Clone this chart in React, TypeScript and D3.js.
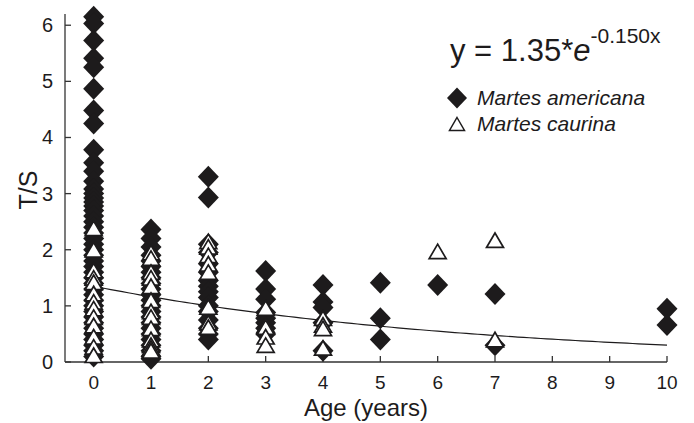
import React from 'react';
import * as d3 from 'd3';

// age (years) per column
const ages = [0, 1, 2, 3, 4, 5, 6, 7, 10];

// Martes americana (filled diamonds), T/S values per age
const americana: number[][] = [
  [6.15, 6.03, 5.73, 5.41, 5.25, 4.87, 4.48, 4.25, 3.78, 3.55, 3.4, 3.22, 3.08, 3.0, 2.92, 2.85, 2.78, 2.7, 2.6, 2.5,
    2.4, 2.3, 2.2, 2.1, 2.0, 1.9, 1.8, 1.7, 1.6, 1.5, 1.4, 1.3, 1.2, 1.1, 1.0, 0.9, 0.8, 0.7, 0.6, 0.5, 0.4, 0.3, 0.2, 0.1],
  [2.36, 2.2, 2.05, 1.9, 1.8, 1.7, 1.6, 1.5, 1.4, 1.3, 1.2, 1.1, 1.0, 0.9, 0.8, 0.7, 0.6, 0.5, 0.4, 0.3, 0.2, 0.1, 0.06],
  [3.3, 2.93, 2.1, 1.95, 1.75, 1.6, 1.45, 1.35, 1.25, 1.15, 1.0, 0.9, 0.75, 0.6, 0.5, 0.4],
  [1.62, 1.3, 1.12, 0.88, 0.78, 0.7, 0.6, 0.5],
  [1.37, 1.07, 0.97, 0.7, 0.2],
  [1.41, 0.78, 0.4],
  [1.37],
  [1.21, 0.3],
  [0.95, 0.66]
];

// Martes caurina (open triangles)
const caurina: number[][] = [
  [2.38, 2.0, 1.63, 1.5, 1.42, 1.22, 1.07, 0.95, 0.8, 0.65, 0.45, 0.27, 0.12],
  [1.95, 1.85, 1.6, 1.5, 1.35, 1.1, 0.9, 0.8, 0.6, 0.4, 0.3, 0.25, 0.2],
  [2.15, 2.05, 1.9, 1.75, 1.6, 0.98, 0.7, 0.62],
  [0.96, 0.66, 0.62, 0.45, 0.3],
  [0.78, 0.66, 0.6, 0.25],
  [],
  [1.97],
  [2.17, 0.4],
  []
];

const xTicks = [0, 1, 2, 3, 4, 5, 6, 7, 8, 9, 10];
const yTicks = [0, 1, 2, 3, 4, 5, 6];
const fitA = 1.35;
const fitB = -0.15;

const W = 694, H = 423;
const ink = '#1d1b1c';
const font = '"Liberation Sans", Arial, sans-serif';

function diamond(cx: number, cy: number, w: number, h: number) {
  return `M${cx},${cy - h}L${cx + w},${cy}L${cx},${cy + h}L${cx - w},${cy}Z`;
}
function triangle(cx: number, cy: number, w: number, h: number) {
  return `M${cx},${cy - h / 2}L${cx + w / 2},${cy + h / 2}L${cx - w / 2},${cy + h / 2}Z`;
}

export default function App() {
  const x = d3.scaleLinear().domain([-0.5, 10]).range([65, 667]);
  const y = d3.scaleLinear().domain([0, 6.2]).range([362, 14]);

  const curveData = d3.range(0, 10.01, 0.1).map((a) => [a, fitA * Math.exp(fitB * a)] as [number, number]);
  const line = d3.line<[number, number]>().x((d) => x(d[0])).y((d) => y(d[1]));

  return (
    <svg width={W} height={H} style={{ position: 'absolute', left: 0, top: 0 }} fontFamily={font}>
      <rect width={W} height={H} fill="#fff" />
      {/* axes */}
      <line x1={x.range()[0]} x2={x.range()[1]} y1={y(0)} y2={y(0)} stroke="#333" strokeWidth={1.3} />
      <line x1={x.range()[0]} x2={x.range()[0]} y1={y.range()[0]} y2={y.range()[1]} stroke="#333" strokeWidth={1.3} />
      {yTicks.map((t) => (
        <g key={'y' + t}>
          <line x1={x.range()[0]} x2={x.range()[0] + 6} y1={y(t)} y2={y(t)} stroke="#333" strokeWidth={1.3} />
          <text x={53} y={y(t) + 7} textAnchor="end" fontSize={20} fill={ink}>{t}</text>
        </g>
      ))}
      {xTicks.map((t) => (
        <g key={'x' + t}>
          <line x1={x(t)} x2={x(t)} y1={y(0)} y2={y(0) - 6} stroke="#333" strokeWidth={1.3} />
          <text x={x(t)} y={389} textAnchor="middle" fontSize={19} fill={ink}>{t}</text>
        </g>
      ))}
      <text x={366} y={416} textAnchor="middle" fontSize={24} fill={ink}>Age (years)</text>
      <text transform="translate(37,190) rotate(-90)" textAnchor="middle" fontSize={25} fill={ink}>T/S</text>

      {/* fitted curve */}
      <path d={line(curveData) || ''} fill="none" stroke={ink} strokeWidth={1.2} />

      {/* points */}
      {americana.map((vals, i) =>
        vals.map((v, j) => <path key={`a${i}-${j}`} d={diamond(x(ages[i]), y(v), 10.5, 11)} fill={ink} />)
      )}
      {caurina.map((vals, i) =>
        vals.map((v, j) => (
          <path key={`c${i}-${j}`} d={triangle(x(ages[i]), y(v), 17, 14.5)} fill="#fff" stroke={ink} strokeWidth={1.7} />
        ))
      )}

      {/* equation */}
      <text x={450} y={61} fontSize={31} fill={ink}>
        y = 1.35*<tspan fontStyle="italic">e</tspan>
        <tspan fontSize={21} dy={-18}>-0.150x</tspan>
      </text>

      {/* legend */}
      <path d={diamond(457, 98, 10, 10.5)} fill={ink} />
      <text x={477} y={105} fontSize={21} fontStyle="italic" fill={ink}>Martes americana</text>
      <path d={triangle(457, 124, 15, 13)} fill="#fff" stroke={ink} strokeWidth={1.5} />
      <text x={477} y={131} fontSize={21} fontStyle="italic" fill={ink}>Martes caurina</text>
    </svg>
  );
}
